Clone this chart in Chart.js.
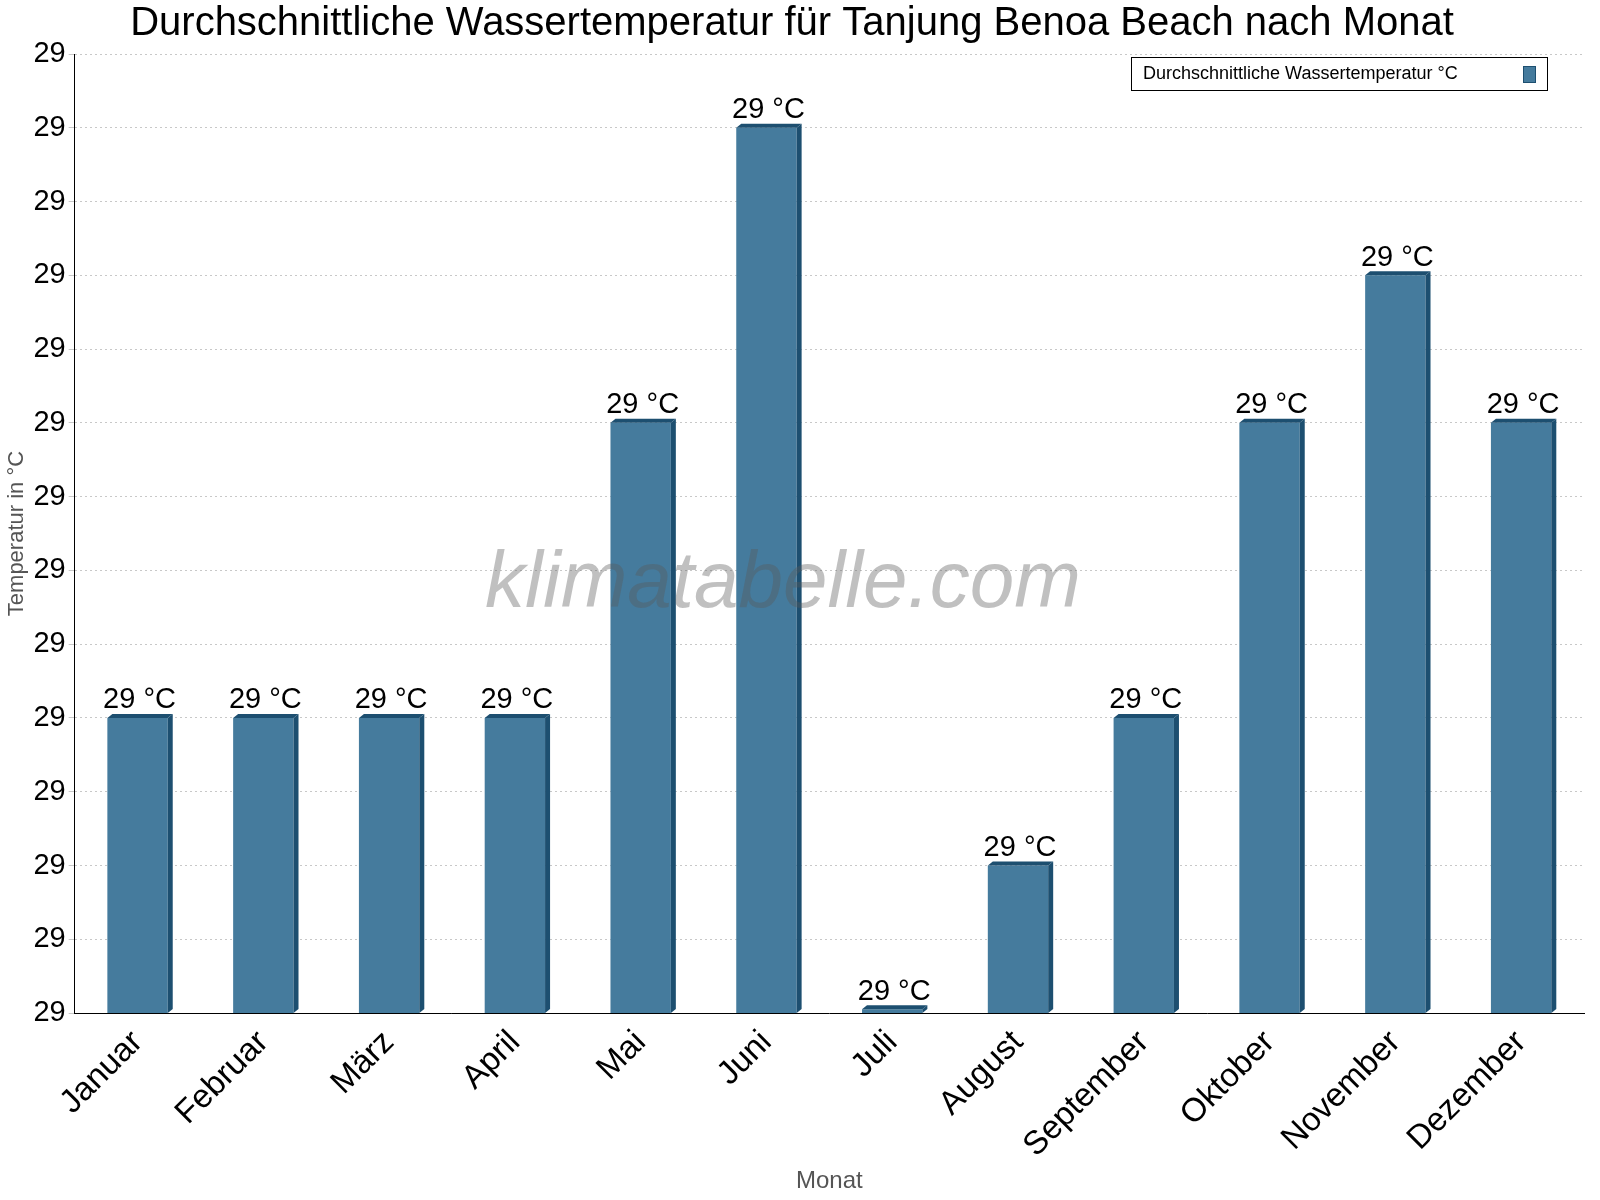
<!DOCTYPE html>
<html><head><meta charset="utf-8">
<script src="https://cdn.jsdelivr.net/npm/chart.js@4"></script>
<style>html,body{margin:0;padding:0;background:#fff}#w{width:1600px;height:1200px}</style>
</head><body><div id="w"><canvas id="c" width="1600" height="1200"></canvas></div>
<script>
const months = ["Januar","Februar","März","April","Mai","Juni","Juli","August","September","Oktober","November","Dezember"];
const waterTemp = [28.68,28.68,28.68,28.68,28.84,29.00,28.522,28.60,28.68,28.84,28.92,28.84];
const valueLabels = ["29 °C","29 °C","29 °C","29 °C","29 °C","29 °C","29 °C","29 °C","29 °C","29 °C","29 °C","29 °C"];
const seriesName = "Durchschnittliche Wassertemperatur °C";

const extras = {
  id:'extras',
  afterDatasetsDraw(chart){
    const ctx=chart.ctx, meta=chart.getDatasetMeta(0), a=chart.chartArea;
    ctx.save();
    const base=a.bottom;
    meta.data.forEach((b,i)=>{
      const w=b.width, x0=b.x-w/2, x1=b.x+w/2, y=b.y, d=5;
      ctx.fillStyle='#1d4f70';
      ctx.beginPath();ctx.moveTo(x1,y);ctx.lineTo(x1+d,y-4);ctx.lineTo(x1+d,base-4);ctx.lineTo(x1,base);ctx.closePath();ctx.fill();
      ctx.beginPath();ctx.moveTo(x0,y);ctx.lineTo(x0+d,y-4);ctx.lineTo(x1+d,y-4);ctx.lineTo(x1,y);ctx.closePath();ctx.fill();
      ctx.fillStyle='#000';ctx.font='29px Arial, "Liberation Sans"';
      ctx.textAlign='center';ctx.textBaseline='bottom';
      ctx.fillText(valueLabels[i],b.x+2,y-3);
    });
    ctx.font='italic 80px Arial, "Liberation Sans"';
    ctx.fillStyle='rgba(90,90,90,0.38)';
    ctx.textAlign='center';ctx.textBaseline='middle';
    ctx.fillText('klimatabelle.com',783,585);
    // legend
    const lx=1131, ly=57, lw=416, lh=33;
    ctx.fillStyle='#fff';ctx.fillRect(lx,ly,lw,lh);
    ctx.strokeStyle='#000';ctx.lineWidth=1;ctx.strokeRect(lx+0.5,ly+0.5,lw,lh);
    ctx.fillStyle='#000';ctx.font='18px Arial, "Liberation Sans"';ctx.textAlign='left';ctx.textBaseline='middle';
    ctx.fillText(seriesName,lx+12,ly+lh/2+1);
    ctx.fillStyle='#457b9d';ctx.fillRect(lx+392,ly+9,12,16);
    ctx.strokeStyle='#1d4f70';ctx.strokeRect(lx+392.5,ly+9.5,12,16);
    ctx.restore();
  }
};

new Chart(document.getElementById('c'),{
  type:'bar',
  data:{labels:months,datasets:[{label:seriesName,data:waterTemp,backgroundColor:'#457b9d',barPercentage:0.48,categoryPercentage:1}]},
  options:{
    responsive:false,animation:false,
    layout:{padding:{left:0,right:16,top:0,bottom:0}},
    plugins:{legend:{display:false},tooltip:{enabled:false},
      title:{display:true,text:'Durchschnittliche Wassertemperatur für Tanjung Benoa Beach nach Monat',font:{size:40,weight:'normal',family:'Arial, "Liberation Sans"'},color:'#000',padding:{top:0,bottom:6}}},
    scales:{
      x:{grid:{display:false,drawTicks:true},border:{color:'#000'},
        ticks:{color:'#000',font:{size:33,family:'Arial, "Liberation Sans"'},maxRotation:45,minRotation:45,padding:2},
        title:{display:true,text:'Monat',color:'#555',font:{size:24,family:'Arial, "Liberation Sans"'},padding:{top:0}}},
      y:{min:28.52,max:29.04,
        ticks:{stepSize:0.04,color:'#000',font:{size:29,family:'Arial, "Liberation Sans"'},callback:v=>Math.round(v).toString()},
        grid:{color:'#c8c8c8',tickLength:6,drawTicks:true},border:{color:'#000',dash:[2,3]},
        title:{display:true,text:'Temperatur in °C',color:'#555',font:{size:22,family:'Arial, "Liberation Sans"'},padding:{bottom:0}}}
    }
  },
  plugins:[extras]
});
</script></body></html>
